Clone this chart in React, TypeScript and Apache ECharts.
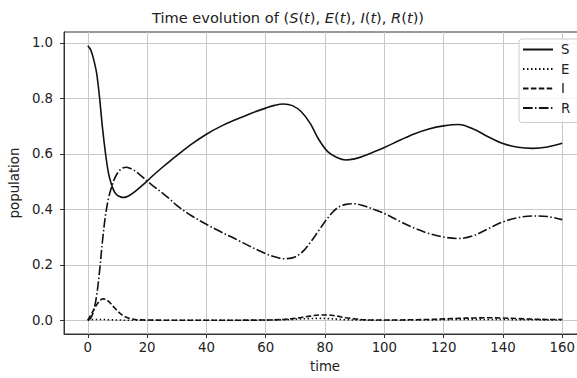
import React, { useEffect, useRef } from 'react';
import * as echarts from 'echarts';

const times = [0,1,2,3,4,5,6,7,8,9,10,11,12,13,14,16,18,20,22,25,28,30,35,40,45,50,55,60,63,66,69,72,75,78,81,84,87,90,93,96,100,105,110,115,120,125,130,135,140,145,150,155,160];

const S = [0.99,0.975,0.94,0.89,0.80,0.69,0.60,0.53,0.49,0.463,0.45,0.445,0.443,0.445,0.45,
  0.465,0.483,0.502,0.522,
  0.55,0.577,0.594,
  0.635,0.671,0.700,0.724,0.746,0.765,
  0.775,0.780,0.774,0.752,0.71,0.65,0.607,0.587,0.578,0.582,0.592,0.605,
  0.623,0.648,0.672,0.69,0.701,0.706,0.69,0.662,0.637,0.624,0.62,0.625,0.638];

const E = [0,0.002,0.003,0.003,0.003,0.003,0.003,0.002,0.002,0.001,0.001,0.001,0,0,0,
  0,0,0,0,
  0,0,0,
  0,0,0,0,0,0.0005,
  0.001,0.002,0.003,0.005,0.006,0.007,0.006,0.004,0.002,0.001,0.001,0,
  0,0,0.001,0.001,0.002,0.003,0.003,0.003,0.003,0.002,0.002,0.001,0.001];

const I = [0,0.018,0.038,0.056,0.07,0.077,0.076,0.068,0.057,0.045,0.034,0.024,0.016,0.011,0.007,
  0.003,0.0015,0.001,0.0005,
  0.0003,0.0002,0.0002,
  0.0002,0.0002,0.0002,0.0003,0.0005,0.001,
  0.0015,0.003,0.006,0.01,0.015,0.019,0.019,0.015,0.009,0.005,0.002,0.001,
  0.001,0.0012,0.002,0.003,0.005,0.007,0.008,0.009,0.008,0.006,0.004,0.003,0.003];

const R = [0,0.008,0.035,0.09,0.18,0.29,0.38,0.44,0.48,0.51,0.53,0.543,0.55,0.552,0.549,
  0.538,0.521,0.502,0.485,
  0.46,0.434,0.414,
  0.377,0.346,0.318,0.292,0.265,0.240,
  0.229,0.222,0.225,0.243,0.28,0.325,0.37,0.404,0.418,0.42,0.413,0.402,
  0.385,0.358,0.333,0.313,0.3,0.295,0.305,0.33,0.355,0.37,0.376,0.374,0.363];

const xTicks = [0,20,40,60,80,100,120,140,160];
const yTicks = [0,0.2,0.4,0.6,0.8,1.0];
const seriesNames = ['S','E','I','R'];

const FONT = 'DejaVu Sans';
const INK = '#222222';

export default function App() {
  const ref = useRef<HTMLDivElement>(null);
  useEffect(() => {
    const chart = echarts.init(ref.current!, null, { renderer: 'svg' });
    const values = [S, E, I, R];
    const dashes: any[] = ['solid', [1.5, 2.5], [5.5, 2.4], [9.6, 2.4, 1.5, 2.4]];
    const titleText = '{n|Time evolution of (}{i|S}{n|(}{i|t}{n|), }{i|E}{n|(}{i|t}{n|), }{i|I}{n|(}{i|t}{n|), }{i|R}{n|(}{i|t}{n|))}';
    chart.setOption({
      animation: false,
      backgroundColor: '#ffffff',
      grid: {
        left: 63, top: 32, right: 14, bottom: 42,
        show: true, borderColor: '#333333', borderWidth: 1, backgroundColor: 'transparent'
      },
      graphic: [{
        type: 'text', x: 288, y: 17,
        style: {
          text: titleText, align: 'center', verticalAlign: 'middle',
          fontFamily: FONT, fontSize: 14.6, fill: INK,
          rich: {
            n: { fontFamily: FONT, fontSize: 14.6, fill: INK, fontStyle: 'normal' },
            i: { fontFamily: FONT, fontSize: 14.6, fill: INK, fontStyle: 'italic' }
          }
        }
      }],
      legend: {
        data: seriesNames, orient: 'vertical', left: 519, top: 39,
        itemWidth: 30, itemHeight: 14, itemGap: 6.5,
        padding: [4, 30, 8, 3],
        backgroundColor: 'rgba(255,255,255,0.8)', borderColor: '#cccccc', borderWidth: 1, borderRadius: 3,
        itemStyle: { opacity: 0 },
        textStyle: { fontFamily: FONT, fontSize: 13.3, color: INK, padding: [0, 0, 0, 3] }
      },
      xAxis: {
        type: 'value', min: -8, max: 168,
        axisLine: { show: true, onZero: false, lineStyle: { color: '#333333', width: 1 } },
        axisTick: { show: true, length: 4, customValues: xTicks, lineStyle: { color: '#333333' } },
        axisLabel: { customValues: xTicks, margin: 7, fontFamily: FONT, fontSize: 13.3, color: INK, formatter: (v: number) => String(v) },
        splitLine: { show: true, lineStyle: { color: '#c8c8c8', width: 1 } },
        name: 'time', nameLocation: 'middle', nameGap: 26,
        nameTextStyle: { fontFamily: FONT, fontSize: 13.3, color: INK }
      },
      yAxis: {
        type: 'value', min: -0.0495, max: 1.0395,
        axisLine: { show: true, onZero: false, lineStyle: { color: '#333333', width: 1 } },
        axisTick: { show: true, length: 4, customValues: yTicks, lineStyle: { color: '#333333' } },
        axisLabel: { customValues: yTicks, margin: 11, fontFamily: FONT, fontSize: 13.3, color: INK, formatter: (v: number) => v.toFixed(1) },
        splitLine: { show: true, lineStyle: { color: '#c8c8c8', width: 1 } },
        name: 'population', nameLocation: 'middle', nameGap: 39, nameRotate: 90,
        nameTextStyle: { fontFamily: FONT, fontSize: 13.3, color: INK }
      },
      series: seriesNames.map((name, k) => ({
        name, type: 'line', symbol: 'none', showSymbol: false, smooth: 0.35,
        color: '#111111',
        lineStyle: { color: '#111111', width: 1.6, type: dashes[k] },
        emphasis: { disabled: true },
        data: times.map((t, i) => [t, values[k][i]])
      }))
    });
    return () => chart.dispose();
  }, []);
  return (
    <div style={{ position: 'fixed', left: 0, top: 0, width: 577, height: 378, overflow: 'hidden', background: '#fff' }}>
      <div ref={ref} style={{ width: 600, height: 378 }} />
    </div>
  );
}
